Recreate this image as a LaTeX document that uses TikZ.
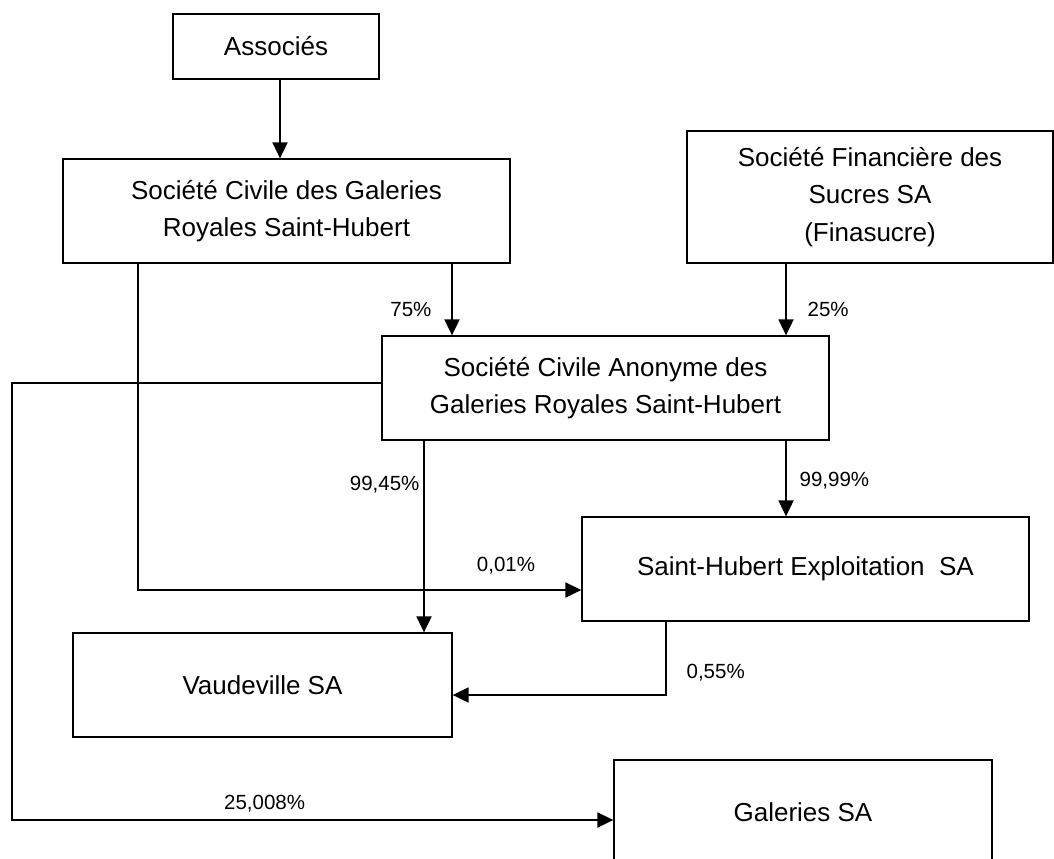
\documentclass[tikz,border=0pt]{standalone}
\usepackage{fontspec}
\setmainfont{Liberation Sans}
\usetikzlibrary{arrows.meta}

\tikzset{
  firm/.style={draw, line width=0.65pt, align=center, inner sep=0pt,
    font=\fontsize{13}{18.75}\selectfont},
  pct/.style={font=\fontsize{10.25}{12}\selectfont},
}

\begin{document}
\begin{tikzpicture}[x=0.5pt,y=-0.5pt,>={Triangle[length=8pt,width=7.5pt]},line width=0.95pt]
  \useasboundingbox (0,0) rectangle (1054,858);

  \node[firm, minimum width=103pt, minimum height=32.5pt] (assoc) at (276,46.5) {Associés};
  \node[firm, minimum width=223.5pt, minimum height=52pt] (scgr) at (286.5,211)
    {Société Civile des Galeries\\Royales Saint-Hubert};
  \node[firm, minimum width=183pt, minimum height=66pt] (fina) at (870,197)
    {Société Financière des\\Sucres SA\\(Finasucre)};
  \node[firm, minimum width=223.5pt, minimum height=52pt] (sca) at (605.5,388)
    {Société Civile Anonyme des\\Galeries Royales Saint-Hubert};
  \node[firm, minimum width=223.5pt, minimum height=52pt] (she) at (805.5,569)
    {Saint-Hubert Exploitation~ SA};
  \node[firm, minimum width=189.5pt, minimum height=52pt] (vaud) at (262.5,685) {Vaudeville SA};
  \node[firm, minimum width=189pt, minimum height=52pt] (gal) at (803,812) {Galeries SA};

  \coordinate (bend) at (12,383);

  \draw[->] (assoc.south -| 280,0) -- (scgr.north -| 280,0);
  \draw[->] (scgr.south -| 452,0) -- node[pct, left=6.5pt, pos=0.64] (p75) {75\%} (sca.north -| 452,0);
  \draw[->] (fina.south -| 786,0) -- node[pct, right=7pt, pos=0.64] (p25) {25\%} (sca.north -| 786,0);
  \draw[->] (sca.south -| 424,0) -- node[pct, left=-1.5pt, pos=0.23] (p9945) {99,45\%} (vaud.north -| 424,0);
  \draw[->] (sca.south -| 786,0) -- node[pct, right=3pt, pos=0.53] (p9999) {99,99\%} (she.north -| 786,0);
  \draw[->] (scgr.south -| 138,0) |- node[pct, above=4pt, pos=0.915] (p001) {0,01\%} ([yshift=-10.5pt]she.west);
  \draw[->] (she.south -| 666,0) |- node[pct, right=6.5pt, pos=0.345] (p055) {0,55\%} ([yshift=-5pt]vaud.east);
  \draw[->] ([yshift=2.5pt]sca.west) -- (bend) |- node[pct, above, pos=0.71] (p25008) {25,008\%} ([yshift=-4pt]gal.west);
\end{tikzpicture}
\end{document}
